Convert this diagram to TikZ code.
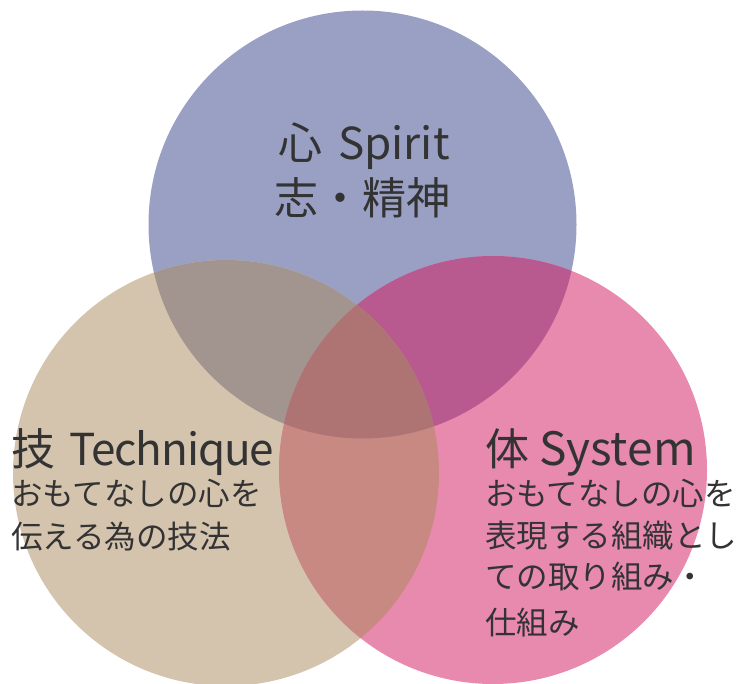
\documentclass[tikz,border=0pt]{standalone}
\usepackage{fontspec}
\setmainfont{Noto Sans CJK JP}
\definecolor{cT}{HTML}{9AA0C4}
\definecolor{cL}{HTML}{D4C4AE}
\definecolor{cR}{HTML}{E889AE}
\definecolor{cTL}{HTML}{A29590}
\definecolor{cTR}{HTML}{B85A90}
\definecolor{cLR}{HTML}{C98983}
\definecolor{cTLR}{HTML}{AE7474}
\definecolor{textgray}{HTML}{333333}
\begin{document}
\begin{tikzpicture}[x=1pt,y=-1pt,
  bigtxt/.style={text=textgray, inner sep=0pt, font=\fontsize{44}{44}\selectfont},
  smalltxt/.style={text=textgray, inner sep=0pt, font=\fontsize{31.5}{31.5}\selectfont}]
\useasboundingbox (0,0) rectangle (738,684);
\coordinate (T) at (362.5,224.5);
\coordinate (L) at (226,473);
\coordinate (R) at (493,470);
\fill[cT] (T) circle[radius=214pt];
\fill[cL] (L) circle[radius=213pt];
\fill[cR] (R) circle[radius=214pt];
\begin{scope}
  \clip (T) circle[radius=214pt];
  \fill[cTL] (L) circle[radius=213pt];
  \fill[cTR] (R) circle[radius=214pt];
\end{scope}
\begin{scope}
  \clip (L) circle[radius=213pt];
  \fill[cLR] (R) circle[radius=214pt];
\end{scope}
\begin{scope}
  \clip (T) circle[radius=214pt];
  \clip (L) circle[radius=213pt];
  \fill[cTLR] (R) circle[radius=214pt];
\end{scope}
% top
\node[bigtxt, anchor=base] (t1) at (364,160) {心\hspace{16pt}Spirit};
\node[bigtxt, anchor=base] (t2) at (362,215) {志・精神};
% left
\node[bigtxt, anchor=base west] (l1) at (11,465) {技\hspace{14pt}{\addfontfeature{LetterSpace=-2.5}Technique}};
\node[smalltxt, anchor=base west] (l2) at (11,505) {おもてなしの心を};
\node[smalltxt, anchor=base west] (l3) at (11,548) {伝える為の技法};
% right
\node[bigtxt, anchor=base west] (r1) at (485,465) {体 {\fontsize{46}{46}\selectfont System}};
\node[smalltxt, anchor=base west] (r2) at (485,505) {おもてなしの心を};
\node[smalltxt, anchor=base west] (r3) at (485,547) {表現する組織とし};
\node[smalltxt, anchor=base west] (r4) at (485,588) {ての取り組み・};
\node[smalltxt, anchor=base west] (r5) at (485,634) {仕組み};
\end{tikzpicture}
\end{document}
